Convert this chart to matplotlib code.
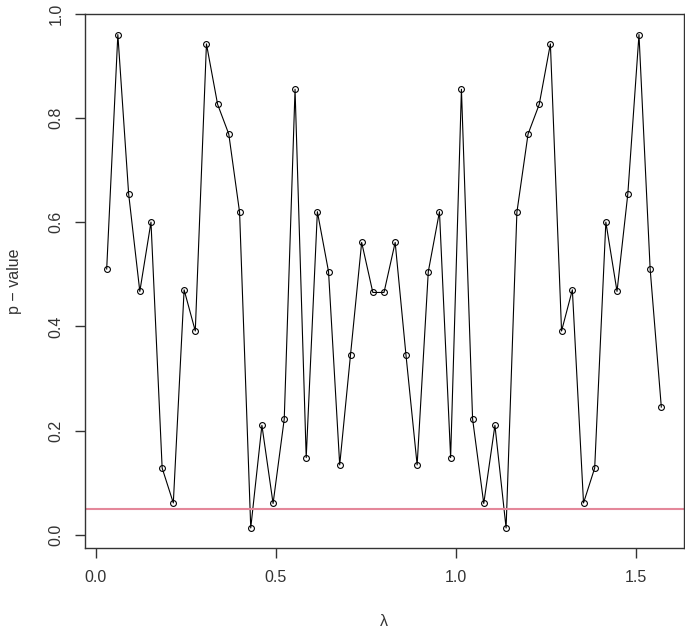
import matplotlib
matplotlib.use("Agg")
import matplotlib.pyplot as plt

plt.rcParams['font.family'] = ['Liberation Sans', 'DejaVu Sans']

# lambda grid (evenly spaced, ~0.0308 apart, last at ~pi/2)
lam = [0.031, 0.062, 0.092, 0.123, 0.154, 0.185, 0.216, 0.246, 0.277, 0.308,
       0.339, 0.370, 0.400, 0.431, 0.462, 0.493, 0.524, 0.554, 0.585, 0.616,
       0.647, 0.678, 0.708, 0.739, 0.770, 0.801, 0.832, 0.862, 0.893, 0.924,
       0.955, 0.986, 1.016, 1.047, 1.078, 1.109, 1.140, 1.170, 1.201, 1.232,
       1.263, 1.294, 1.324, 1.355, 1.386, 1.417, 1.448, 1.478, 1.509, 1.540,
       1.571]

pvals = [0.510, 0.960, 0.654, 0.467, 0.600, 0.128, 0.061, 0.470, 0.391, 0.942,
         0.826, 0.769, 0.619, 0.013, 0.210, 0.060, 0.222, 0.855, 0.148, 0.620,
         0.505, 0.134, 0.345, 0.561, 0.465, 0.465, 0.561, 0.345, 0.134, 0.505,
         0.620, 0.148, 0.855, 0.222, 0.060, 0.210, 0.013, 0.619, 0.769, 0.826,
         0.942, 0.391, 0.470, 0.061, 0.128, 0.600, 0.467, 0.654, 0.960, 0.510,
         0.245]

threshold = 0.05
xticks = [0.0, 0.5, 1.0, 1.5]
yticks = [0.0, 0.2, 0.4, 0.6, 0.8, 1.0]

W, H = 685, 629
fig = plt.figure(figsize=(W / 100, H / 100), dpi=100)
ax = fig.add_axes([84.5 / W, 1 - 547.7 / H, (683.5 - 84.5) / W, (547.7 - 13.7) / H])

ax.plot(lam, pvals, color='black', lw=0.8, marker='o', markersize=4.2,
        markerfacecolor='none', markeredgecolor='black', markeredgewidth=0.8)
ax.axhline(threshold, color='#e4879a', lw=1.5)

ax.margins(x=0.04, y=0.04)
ax.set_xticks(xticks)
ax.set_xticklabels(['0.0', '0.5', '1.0', '1.5'])
ax.set_yticks(yticks)
ax.set_yticklabels(['0.0', '0.2', '0.4', '0.6', '0.8', '1.0'], rotation=90, va='center')

for s in ax.spines.values():
    s.set_color('#333333')
    s.set_linewidth(1.0)
ax.tick_params(axis='both', direction='out', length=7, width=1.0, color='#333333',
               labelsize=11.5, labelcolor='#333333', pad=9)
ax.tick_params(axis='y', pad=8)

fig.text(384 / W, 1 - 621 / H, 'λ', ha='center', va='center', fontsize=11.5, color='#333333')
fig.text(15 / W, 1 - 281 / H, 'p − value', ha='center', va='center', rotation=90,
         fontsize=11.5, color='#333333')

fig.savefig('out.png', dpi=100)
